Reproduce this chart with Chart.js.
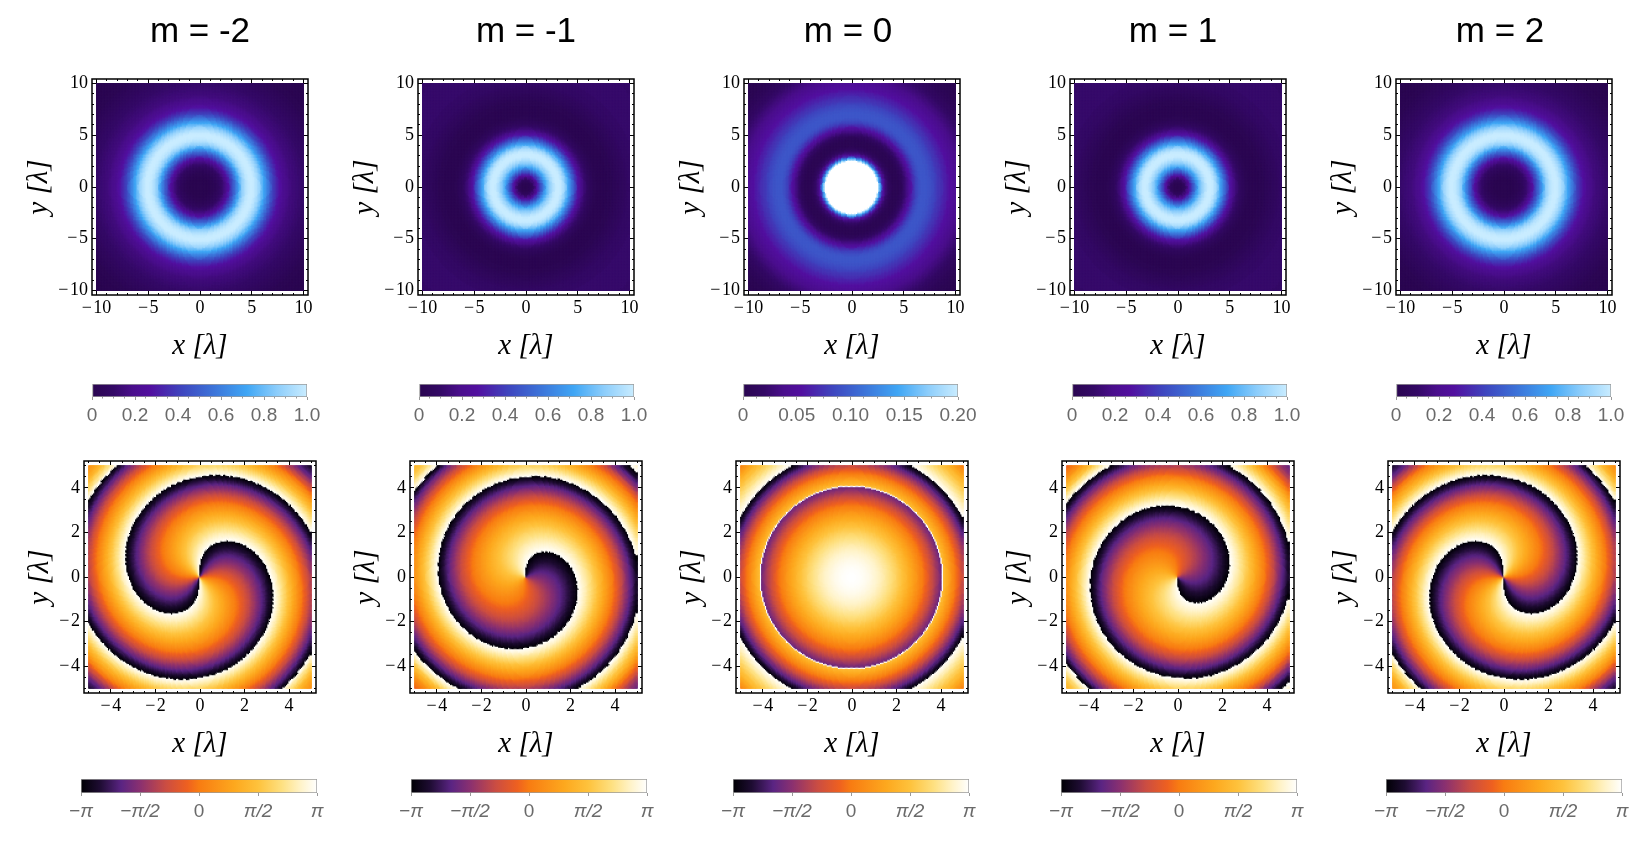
<!DOCTYPE html>
<html>
<head>
<meta charset="utf-8">
<title>m = -2 ... m = 2</title>
<script src="https://cdn.jsdelivr.net/npm/chart.js@4/dist/chart.umd.min.js"></script>
<style>
    html, body { margin: 0; padding: 0; background: #fff; overflow: hidden; }
    canvas { position: absolute; }
</style>
</head>
<body>
<script>
// Panel data
const charges = [-2, -1, 0, 1, 2];
const titles = ['m = -2', 'm = -1', 'm = 0', 'm = 1', 'm = 2'];

// Intensity on the colour bar's 0..1 range, one value per ring, rings 0.125 wide
const intensityM2 = [0, 0, 0, 0, 0, 0, 0, 0, .01, .01, .02, .02, .03, .04, .05, .06, .08, .10, .12, .15, .18, .22, .26, .31, .36, .41, .46, .52, .58, .64, .70, .76, .81, .86, .90, .93, .96, .98, .99, 1, 1, 1, .99, .97, .95, .92, .89, .85, .81, .77, .72, .67, .63, .58, .54, .49, .45, .41, .38, .35, .32, .29, .27, .25, .23, .21, .20, .19, .18, .17, .16, .15, .15, .14, .14, .13, .13, .12, .12, .11, .11, .10, .10, .09, .09, .08, .08, .07, .07, .06, .06, .05, .05, .04, .04, .03, .03, .02, .02, .02, .02, .01, .01, .01, .01, .01, .01, 0, 0, 0, 0, 0, 0, 0, 0];
const intensityM1 = [0, 0, .01, .02, .03, .06, .09, .14, .19, .25, .32, .39, .46, .53, .60, .67, .73, .78, .83, .87, .91, .94, .97, .99, 1, 1, 1, .99, .97, .94, .90, .85, .80, .74, .68, .62, .56, .50, .44, .38, .33, .28, .24, .20, .17, .14, .12, .10, .08, .06, .05, .04, .03, .02, .02, .01, .01, .01, .01, .01, .01, .01, .01, .01, .02, .02, .02, .02, .03, .03, .04, .04, .05, .05, .06, .06, .07, .07, .08, .08, .09, .09, .09, .09, .10, .10, .10, .10, .11, .11, .11, .11, .11, .11, .11, .11, .11, .11, .11, .11, .11, .11, .11, .11, .11, .11, .11, .11, .10, .10, .10, .10, .10, .10, .10];
const intensityM0 = [1.5, 1.5, 1.5, 1.5, 1.5, 1.5, 1.5, 1.5, 1.5, 1.5, 1.5, 1.5, 1.5, 1.5, 1.5, 1.5, 1.5, 1.5, 1.5, 1.5, 1.2, .9, .7, .5, .35, .24, .17, .12, .09, .06, .04, .03, .02, .02, .02, .02, .02, .03, .04, .06, .08, .11, .14, .17, .21, .25, .28, .32, .35, .38, .41, .43, .45, .46, .47, .47, .47, .47, .47, .46, .46, .45, .44, .43, .42, .41, .39, .38, .37, .36, .35, .33, .32, .31, .30, .28, .27, .26, .25, .24, .23, .22, .21, .20, .19, .18, .17, .16, .15, .14, .13, .12, .11, .10, .09, .08, .07, .07, .06, .05, .04, .04, .03, .03, .02, .02, .02, .02, .01, .01, .01, .01, 0, 0, 0];
const intensityByPanel = [intensityM2, intensityM1, intensityM0, intensityM1, intensityM2];

// Phase in radians, one value per ring, rings 0.05 wide
const phaseVortex = [0, 0, 0, -.01, -.01, -.02, -.03, -.04, -.05, -.06, -.08, -.09, -.11, -.13, -.15, -.17, -.20, -.22, -.25, -.28, -.31, -.34, -.38, -.41, -.45, -.48, -.52, -.56, -.61, -.65, -.70, -.74, -.79, -.84, -.90, -.95, -1.00, -1.06, -1.12, -1.18, -1.24, -1.30, -1.37, -1.43, -1.50, -1.57, -1.64, -1.71, -1.79, -1.86, -1.94, -2.02, -2.10, -2.18, -2.26, -2.34, -2.43, -2.52, -2.61, -2.70, -2.79, -2.88, -2.98, -3.08, -3.17, -3.27, -3.38, -3.48, -3.58, -3.69, -3.80, -3.91, -4.02, -4.13, -4.24, -4.36, -4.48, -4.60, -4.72, -4.84, -4.96, -5.07, -5.19, -5.31, -5.44, -5.56, -5.69, -5.82, -5.96, -6.09, -6.22, -6.34, -6.47, -6.60, -6.74, -6.87, -7.00, -7.12, -7.25, -7.39, -7.53, -7.66, -7.80, -7.94, -8.08, -8.22, -8.37, -8.51, -8.66, -8.80, -8.95, -9.10, -9.25, -9.40, -9.55, -9.70, -9.86, -10.01, -10.16, -10.30, -10.45, -10.62, -10.80, -10.97, -11.15, -11.37, -11.60, -11.77, -11.95, -12.10, -12.25, -12.42, -12.60, -12.77, -12.95, -13.07, -13.20, -13.30, -13.40, -13.50, -13.60, -13.70, -13.80, -13.90, -14.00];
const phaseM0 = [3.14, 3.14, 3.14, 3.13, 3.13, 3.12, 3.11, 3.10, 3.09, 3.08, 3.06, 3.05, 3.03, 3.01, 2.99, 2.97, 2.94, 2.92, 2.89, 2.86, 2.83, 2.80, 2.77, 2.74, 2.70, 2.66, 2.62, 2.58, 2.54, 2.50, 2.45, 2.41, 2.36, 2.31, 2.26, 2.20, 2.15, 2.10, 2.04, 1.98, 1.92, 1.86, 1.79, 1.73, 1.66, 1.59, 1.52, 1.45, 1.38, 1.30, 1.23, 1.15, 1.07, .99, .91, .83, .74, .66, .57, .48, .39, .30, .20, .11, .01, -.09, -.19, -.29, -.40, -.50, -.61, -.72, -.83, -.94, -1.05, -1.16, -1.28, -1.40, -1.51, -1.63, -1.75, -1.87, 3.14, 1.37, 1.25, 1.12, .99, .86, .73, .60, .47, .33, .19, .05, -.09, -.23, -.37, -.51, -.66, -.81, -.96, -1.11, -1.26, -1.41, -1.57, -1.73, -1.89, -2.05, -2.21, -2.37, -2.54, -2.70, -2.87, -3.04, 3.10, 3.0, 2.9, 2.8, 2.7, 2.6, 2.5, 2.4, 2.3, 2.2, 2.1, 2.0, 1.9, 1.8, 1.7, 1.6, 1.5, 1.4, 1.3, 1.18, 1.05, .92, .8, .68, .55, .42, .3, .18, .05, -.08, -.2];
const phaseStart = [0, -Math.PI / 2, 0, -Math.PI / 2, 0];

// Axis ticks
const fieldTicks = [-10, -5, 0, 5, 10];
const fieldMinorTicks = [-10, -9, -8, -7, -6, -5, -4, -3, -2, -1, 0, 1, 2, 3, 4, 5, 6, 7, 8, 9, 10];
const phaseTicks = [-4, -2, 0, 2, 4];
const phaseMinorTicks = [-5, -4.5, -4, -3.5, -3, -2.5, -2, -1.5, -1, -.5, 0, .5, 1, 1.5, 2, 2.5, 3, 3.5, 4, 4.5, 5];

// Colour bar ticks
const barTicks = [0, .2, .4, .6, .8, 1];
const barLabels = ['0', '0.2', '0.4', '0.6', '0.8', '1.0'];
const barMinorTicks = [0, .05, .1, .15, .2, .25, .3, .35, .4, .45, .5, .55, .6, .65, .7, .75, .8, .85, .9, .95, 1];
const barM0Ticks = [0, .05, .1, .15, .2];
const barM0Labels = ['0', '0.05', '0.10', '0.15', '0.20'];
const barM0MinorTicks = [0, .0125, .025, .0375, .05, .0625, .075, .0875, .1, .1125, .125, .1375, .15, .1625, .175, .1875, .2];
const phaseBarTicks = [-Math.PI, -Math.PI / 2, 0, Math.PI / 2, Math.PI];
const phaseBarLabels = ['\u2212\u03c0', '\u2212\u03c0/2', '0', '\u03c0/2', '\u03c0'];

// Colour maps: [position, r, g, b]
const fieldColors = [[0, 42, 6, 80], [.1, 52, 9, 102], [.19, 74, 14, 140], [.27, 82, 15, 159], [.42, 62, 70, 191], [.56, 60, 114, 216], [.72, 63, 166, 245], [.86, 140, 205, 251], [1, 201, 236, 255], [1.02, 255, 255, 255], [2, 255, 255, 255]];
const phaseColors = [[0, 0, 0, 4], [.08, 30, 12, 50], [.17, 90, 36, 131], [.25, 138, 48, 112], [.36, 203, 77, 66], [.45, 238, 96, 32], [.5, 248, 124, 18], [.65, 253, 168, 30], [.75, 254, 194, 60], [.85, 254, 224, 128], [.93, 255, 243, 200], [1, 255, 255, 255]];

// Page layout
const fieldFrameLeft = [92, 418, 744, 1070, 1396];
const phaseFrameLeft = [84, 410, 736, 1062, 1388];
const fieldBarLeft = [92, 419, 743, 1072, 1396];
const phaseBarLeft = [81, 411, 733, 1061, 1386];
const titleShift = [0, 0, 4, 5, 4];

function colorAt(stops, t) {
    let i = 1;
    while (i < stops.length - 1 && stops[i][0] < t) i++;
    const a = stops[i - 1], b = stops[i];
    const f = Math.min(1, Math.max(0, (t - a[0]) / (b[0] - a[0])));
    const mix = k => Math.round(a[k] + (b[k] - a[k]) * f);
    return `rgb(${mix(1)},${mix(2)},${mix(3)})`;
}

function wrapPhase(v) {
    const turn = 2 * Math.PI;
    return ((v + Math.PI) % turn + turn) % turn - Math.PI;
}

function ringValue(rings, radius, width) {
    return rings[Math.min(rings.length - 1, Math.round(radius / width))];
}

// One colour per cell, taken from the nearest ring of the tables above
function fieldCell(panel, x, y) {
    return colorAt(fieldColors, ringValue(intensityByPanel[panel], Math.hypot(x, y), .125));
}

function phaseCell(panel, x, y) {
    const radius = Math.hypot(x, y);
    const m = charges[panel];
    const v = m === 0 ? ringValue(phaseM0, radius, .05)
        : m * Math.atan2(y, x) + phaseStart[panel] + ringValue(phaseVortex, radius, .05);
    return colorAt(phaseColors, (wrapPhase(v) + Math.PI) / (2 * Math.PI));
}

function buildCells(limit, count, cellColor) {
    const points = [], colors = [];
    const step = 2 * limit / count;
    for (let i = 0; i < count; i++) {
        for (let j = 0; j < count; j++) {
            const x = -limit + (i + .5) * step;
            const y = -limit + (j + .5) * step;
            points.push({x, y});
            colors.push(cellColor(x, y));
        }
    }
    return {points, colors};
}

function addCanvas(left, top, width, height) {
    const canvas = document.createElement('canvas');
    canvas.width = width;
    canvas.height = height;
    canvas.style.left = left + 'px';
    canvas.style.top = top + 'px';
    canvas.style.width = width + 'px';
    canvas.style.height = height + 'px';
    document.body.appendChild(canvas);
    return canvas.getContext('2d');
}

const baseOptions = {
    responsive: false,
    animation: false,
    events: [],
    plugins: {legend: {display: false}, tooltip: {enabled: false}}
};

// Black box round the plot area
const framePlugin = {
    id: 'frame',
    afterDraw(chart) {
        const {ctx, chartArea: a} = chart;
        ctx.save();
        ctx.strokeStyle = '#000';
        ctx.lineWidth = 1.5;
        ctx.strokeRect(a.left, a.top, a.right - a.left, a.bottom - a.top);
        ctx.restore();
    }
};

function tickText(value) {
    return String(value).replace('-', '\u2212\u200a');
}

// Frame side of a panel: a major and a minor scale share each edge
function frameScale(axis, position, limit, values, tickLength, size, weight) {
    return {
        type: 'linear',
        axis: axis,
        position: position,
        min: -limit,
        max: limit,
        weight: weight,
        afterBuildTicks: scale => { scale.ticks = values.map(value => ({value})); },
        afterFit: scale => {
            if (axis === 'x') scale.height = size; else scale.width = size;
        },
        border: {display: false},
        grid: {drawOnChartArea: false, drawTicks: true, tickLength: tickLength, tickColor: '#000', tickWidth: 1, z: 1},
        ticks: {display: false, autoSkip: false, maxRotation: 0}
    };
}

function drawPanel(opts) {
    const {left, top, frame, limit, cellLimit, ticks, minorTicks, count, cellColor, title, cellRadius, yTitlePad, marginRight} = opts;
    const marginLeft = 70, marginBottom = 75;
    const ctx = addCanvas(left - marginLeft, title ? 0 : top - 20, marginLeft + frame + marginRight, (title ? top : 20) + frame + marginBottom);
    const cells = buildCells(cellLimit, count, cellColor);

    const labelFont = {family: '"Liberation Serif"', size: 18};
    const titleFont = {family: '"Liberation Serif"', size: 29, style: 'italic'};

    const x = frameScale('x', 'bottom', limit, ticks, -4, marginBottom, 1);
    x.ticks = {display: true, autoSkip: false, maxRotation: 0, padding: 6.2, color: '#000', font: labelFont, callback: tickText};
    x.title = {display: true, text: 'x [\u03bb]', color: '#000', font: titleFont, padding: {top: 0, bottom: 6.2}};

    const y = frameScale('y', 'left', limit, ticks, -4, marginLeft, 1);
    y.ticks = {display: true, autoSkip: false, padding: 8, color: '#000', font: labelFont, callback: tickText};
    y.title = {display: true, text: 'y [\u03bb]', color: '#000', font: titleFont, padding: {top: yTitlePad, bottom: 0}};

    new Chart(ctx, {
        type: 'scatter',
        data: {
            datasets: [{
                data: cells.points,
                pointStyle: 'rect',
                pointRadius: cellRadius,
                pointBorderWidth: 0,
                pointBackgroundColor: cells.colors,
                showLine: false
            }]
        },
        plugins: [framePlugin],
        options: {
            ...baseOptions,
            parsing: false,
            normalized: true,
            plugins: {
                ...baseOptions.plugins,
                title: title ? {
                    display: true,
                    text: title,
                    color: '#000',
                    font: {family: '"Liberation Sans"', size: 35, weight: 'normal', lineHeight: 1.2},
                    padding: {top: 11.5, bottom: top - 11.5 - 42}
                } : {display: false}
            },
            scales: {
                x: x,
                xMinor: frameScale('x', 'bottom', limit, minorTicks, -2, 0, 0),
                xTop: frameScale('x', 'top', limit, ticks, -4, title ? 0 : 20, 1),
                xTopMinor: frameScale('x', 'top', limit, minorTicks, -2, 0, 0),
                y: y,
                yMinor: frameScale('y', 'left', limit, minorTicks, -2, 0, 0),
                yRight: frameScale('y', 'right', limit, ticks, -4, marginRight, 1),
                yRightMinor: frameScale('y', 'right', limit, minorTicks, -2, 0, 0)
            }
        }
    });
}

function drawColorBar(opts) {
    const {left, top, width, height, min, max, ticks, labels, minorTicks, stops, labelPadding} = opts;
    const side = 30, head = 2, foot = 40;
    const ctx = addCanvas(left - side, top - head, width + 2 * side, head + height + foot);

    const barScale = (values, tickLength, size, weight) => ({
        type: 'linear',
        axis: 'x',
        position: 'bottom',
        min: min,
        max: max,
        weight: weight,
        afterBuildTicks: scale => { scale.ticks = values.map(value => ({value})); },
        afterFit: scale => { scale.height = size; },
        border: {display: false},
        grid: {drawOnChartArea: false, drawTicks: true, tickLength: tickLength, tickColor: '#999', tickWidth: 1},
        ticks: {display: false, autoSkip: false, maxRotation: 0}
    });

    const x = barScale(ticks, 3, foot, 1);
    x.ticks = {
        display: true, autoSkip: false, maxRotation: 0, padding: labelPadding, color: '#6a6a6a',
        font: context => ({
            family: '"Liberation Sans"',
            size: 19,
            style: String(labels[context.index]).includes('\u03c0') ? 'italic' : 'normal'
        }),
        callback: (value, index) => labels[index]
    };

    new Chart(ctx, {
        type: 'bar',
        data: {
            labels: ['bar'],
            datasets: [{
                data: [[min, max]],
                barPercentage: 1,
                categoryPercentage: 1,
                borderWidth: 1,
                borderColor: '#9a9a9a',
                borderSkipped: false,
                backgroundColor: context => {
                    const area = context.chart.chartArea;
                    if (!area) return '#000';
                    const gradient = context.chart.ctx.createLinearGradient(area.left, 0, area.right, 0);
                    stops.filter(s => s[0] <= 1).forEach(s => gradient.addColorStop(s[0], `rgb(${s[1]},${s[2]},${s[3]})`));
                    return gradient;
                }
            }]
        },
        options: {
            ...baseOptions,
            indexAxis: 'y',
            layout: {padding: {left: side, right: side, top: head}},
            scales: {
                x: x,
                xMinor: barScale(minorTicks, 1.5, 0, 0),
                y: {type: 'category', axis: 'y', display: false}
            }
        }
    });
}

charges.forEach((m, i) => {
    drawPanel({
        left: fieldFrameLeft[i], top: 79, frame: 216, limit: 10.435, cellLimit: 10,
        ticks: fieldTicks, minorTicks: fieldMinorTicks, count: 140, cellRadius: 1.75,
        cellColor: (x, y) => fieldCell(i, x, y), title: titles[i], yTitlePad: 0,
        marginRight: 70 - 2 * titleShift[i]
    });
    drawColorBar({
        left: fieldBarLeft[i], top: 384, width: 215, height: 13,
        min: 0, max: m === 0 ? .2 : 1,
        ticks: m === 0 ? barM0Ticks : barTicks,
        labels: m === 0 ? barM0Labels : barLabels,
        minorTicks: m === 0 ? barM0MinorTicks : barMinorTicks,
        stops: fieldColors, labelPadding: 4.6
    });
    drawPanel({
        left: phaseFrameLeft[i], top: 461, frame: 232, limit: 5.21, cellLimit: 5,
        ticks: phaseTicks, minorTicks: phaseMinorTicks, count: 180, cellRadius: 1.59,
        cellColor: (x, y) => phaseCell(i, x, y), title: null, yTitlePad: 9,
        marginRight: 16
    });
    drawColorBar({
        left: phaseBarLeft[i], top: 779, width: 236, height: 14,
        min: -Math.PI, max: Math.PI,
        ticks: phaseBarTicks, labels: phaseBarLabels, minorTicks: phaseBarTicks,
        stops: phaseColors, labelPadding: 4
    });
});
</script>
</body>
</html>
